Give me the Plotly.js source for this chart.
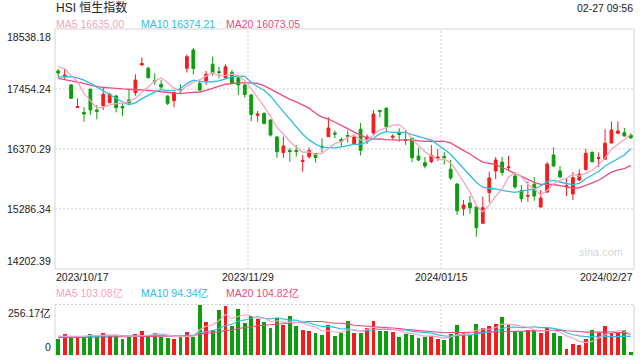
<!DOCTYPE html>
<html>
<head>
<meta charset="utf-8">
<script src="https://cdn.plot.ly/plotly-3.0.1.min.js"></script>
<style>html,body{margin:0;padding:0;background:#fff;}#chart{width:640px;height:360px;}</style>
</head>
<body>
<div id="chart"></div>
<script>
// ---------- data ----------
const dateLabels = ['2023/10/17', '2023/11/29', '2024/01/15', '2024/02/27'];
const dateIndex = [0, 30, 60, 89];
const priceTicks = [18538.18, 17454.24, 16370.29, 15286.34, 14202.39];
const volTicks = [256.17, 0];
const titleText = 'HSI 恒生指数';
const timeText = '02-27 09:56';

const open = [17779,17680,17527,17120,17030,17449,17075,17153,17207,17328,
17138,17256,17387,17888,17828,17608,17539,17328,17243,17445,
17828,18159,17557,17599,17901,17767,17658,17756,17658,17527,
17346,16979,17015,16894,16587,16307,16343,16343,16145,16231,
16289,16419,16593,16659,16542,16614,16457,16726,16546,16659,
17066,17106,16582,16665,16542,16564,16244,16123,16141,16208,
16235,16005,15738,15292,15395,15322,15028,15584,15973,16135,
16033,15883,15621,15516,15734,15322,15593,16262,15973,15693,
15557,15810,16000,16311,16199,16184,16479,16654,16665,16623];
const high = [17816,17828,17545,17286,17124,17463,17165,17485,17387,17346,
17201,17445,17720,18027,17857,17738,17617,17337,17405,17539,
18078,18195,17599,17779,18038,17857,17901,17798,17689,17545,
17364,17057,17030,16912,16605,16593,16388,16443,16262,16397,
16298,16564,16943,16705,16578,16705,16632,16840,16632,17075,
17075,17125,16636,16744,16714,16578,16397,16226,16443,16370,
16316,16172,15756,15449,15521,15344,15509,15960,16226,16226,
16244,15937,15720,15783,15864,15630,16135,16397,16064,15837,
15955,16005,16374,16325,16307,16728,16867,16867,16750,16659];
const low = [17658,17617,17274,17111,16864,16985,16907,17075,17192,17033,
16966,17183,17333,17879,17644,17527,17454,17165,17124,17377,
17752,17716,17418,17527,17695,17648,17635,17539,17346,17297,
16871,16864,16813,16593,16213,16213,16141,16231,15960,16199,
16127,16307,16587,16569,16406,16488,16443,16253,16461,16623,
16943,16696,16533,16502,16443,16135,16153,16022,16112,16153,
16090,15810,15178,15169,15201,14786,15015,15404,15823,15892,
15991,15648,15413,15418,15436,15316,15575,16040,15841,15521,
15449,15792,15982,16127,16045,16172,16470,16641,16596,16560];
const close = [17743,17707,17286,17138,17003,17075,17048,17359,17359,17116,
17111,17207,17617,17915,17658,17590,17490,17196,17395,17418,
18038,17825,17436,17720,17738,17752,17857,17557,17527,17355,
16994,17003,16831,16623,16322,16425,16325,16325,16163,16343,
16217,16406,16750,16641,16506,16600,16587,16347,16587,17003,
17051,16773,16600,16632,16524,16213,16172,16064,16257,16222,
16213,15846,15255,15359,15310,14950,15310,15846,16172,15946,
16045,15684,15472,15530,15521,15485,16096,16064,15864,15707,
15852,15915,16293,16141,16213,16473,16714,16696,16605,16569];

const ma5 = [17857,17820,17700,17585,17375,17242,17110,17125,17169,17191,
17199,17230,17282,17393,17502,17597,17654,17570,17466,17418,
17507,17574,17622,17687,17751,17694,17701,17725,17686,17610,
17458,17287,17142,16961,16755,16641,16505,16404,16312,16316,
16275,16291,16376,16471,16504,16581,16617,16536,16525,16625,
16715,16752,16803,16812,16716,16548,16428,16321,16246,16186,
16186,16120,15959,15779,15597,15344,15237,15355,15518,15645,
15864,15939,15864,15735,15650,15538,15621,15739,15806,15843,
15917,15880,15926,15982,16083,16207,16367,16447,16540,16635.00];
const ma10 = [17670,17675,17680,17655,17615,17555,17490,17420,17345,17283,
17220,17170,17203,17281,17347,17398,17442,17426,17430,17460,
17552,17614,17596,17577,17585,17601,17638,17674,17687,17681,
17576,17494,17433,17324,17182,17049,16896,16773,16637,16535,
16458,16398,16390,16392,16410,16428,16454,16456,16498,16564,
16648,16685,16670,16669,16670,16632,16590,16562,16529,16451,
16367,16274,16140,16013,15891,15765,15679,15657,15648,15621,
15604,15588,15609,15627,15648,15701,15780,15802,15771,15747,
15728,15751,15833,15894,15963,16062,16124,16187,16261,16374.21];
const ma20 = [17647,17626,17601,17577,17554,17526,17499,17481,17474,17460,
17455,17450,17445,17440,17430,17420,17405,17395,17385,17372,
17386,17392,17400,17429,17466,17499,17540,17550,17558,17570,
17564,17554,17515,17450,17383,17325,17267,17223,17162,17108,
17017,16946,16912,16858,16796,16739,16675,16615,16568,16550,
16553,16541,16530,16530,16540,16530,16522,16509,16514,16508,
16507,16479,16405,16341,16281,16198,16134,16109,16089,16036,
15985,15931,15875,15820,15769,15733,15729,15729,15710,15684,
15666,15669,15721,15760,15805,15881,15952,15994,16016,16073.05];

const vol = [80,107,96,93,96,107,96,113,100,96,
81,90,107,122,96,113,91,86,81,93,
117,93,256.17,169,127,228,249,147,233,164,
198,181,167,139,186,152,198,149,127,122,
113,101,152,96,113,172,113,113,137,172,
123,123,118,90,107,101,88,93,96,81,
76,107,152,113,101,157,135,147,157,191,
152,118,118,127,127,113,135,113,96,29,
56,51,81,127,113,147,113,113,127,15];
const vma5 = [96,95,97,94,94,100,98,101,102,102,
97,96,95,99,99,106,106,102,93,93,
94,94,128,146,152,175,206,184,197,204,
198,185,189,170,174,165,168,165,162,150,
142,122,123,117,115,127,129,121,130,141,
132,134,135,125,112,108,101,96,97,92,
87,91,102,106,110,126,132,131,139,157,
156,153,147,141,128,121,124,123,117,97,
86,69,63,69,86,104,116,123,123,103.08];
const vma10 = [92,93,94,94,95,96,96,97,97,98,
99,97,98,101,101,101,101,98,96,96,
100,100,115,120,123,134,150,156,171,178,
186,195,186,183,189,182,177,177,166,162,
153,145,144,140,132,134,126,122,123,128,
129,131,128,127,127,120,117,115,111,102,
97,96,99,101,101,106,111,117,123,134,
141,142,139,140,143,139,139,135,129,113,
103,97,93,93,91,95,93,93,96,94.34];
const vma20 = [88,88,89,89,90,90,91,91,92,92,
93,93,94,94,95,95,95,96,96,97,
99,98,106,110,112,118,125,127,134,137,
143,148,151,151,156,158,163,166,169,170,
170,170,165,161,161,158,151,149,145,145,
141,138,136,134,130,127,122,119,117,115,
113,114,114,114,114,113,114,116,117,118,
119,119,119,121,122,122,125,126,126,123,
122,119,116,117,117,117,116,114,112,104.82];

// ---------- styling ----------
const FONT = '"Liberation Sans", Arial, "Noto Sans CJK SC", sans-serif';
const RED = '#f41c1c', GREEN = '#0d9e0d';
const C5 = '#f8a3c0', C10 = '#2fbde3', C20 = '#ee4a80';
const TXT = '#222';

const idx = close.map((_, i) => i);
const n = close.length;
const xr = [-0.5, n - 0.5];

// plot geometry (page pixels)
const PT = 29, PB = 355, PL = 55, PR = 634;
const H = PB - PT, W = PR - PL;
const py = p => (PB - p) / H;
const px = p => (p - PL) / W;
const mainBottom = py(269), volTop = py(304.5);

const volColors = close.map((c, i) => c >= open[i] ? RED : GREEN);

const traces = [
  {type: 'candlestick', x: idx, open: open, high: high, low: low, close: close,
   xaxis: 'x', yaxis: 'y', whiskerwidth: 0, hoverinfo: 'skip',
   increasing: {line: {color: RED, width: 1}, fillcolor: RED},
   decreasing: {line: {color: GREEN, width: 1}, fillcolor: GREEN}},
  {type: 'scatter', mode: 'lines', x: idx, y: ma20, xaxis: 'x', yaxis: 'y', line: {color: C20, width: 1.3}, hoverinfo: 'skip'},
  {type: 'scatter', mode: 'lines', x: idx, y: ma10, xaxis: 'x', yaxis: 'y', line: {color: C10, width: 1.3}, hoverinfo: 'skip'},
  {type: 'scatter', mode: 'lines', x: idx, y: ma5, xaxis: 'x', yaxis: 'y', line: {color: C5, width: 1.3}, hoverinfo: 'skip'},
  {type: 'bar', x: idx, y: vol, xaxis: 'x2', yaxis: 'y2', width: 0.6, marker: {color: volColors, line: {width: 0}}, hoverinfo: 'skip'},
  {type: 'scatter', mode: 'lines', x: idx, y: vma20, xaxis: 'x2', yaxis: 'y2', line: {color: C20, width: 1.1}, hoverinfo: 'skip'},
  {type: 'scatter', mode: 'lines', x: idx, y: vma10, xaxis: 'x2', yaxis: 'y2', line: {color: C10, width: 1.1}, hoverinfo: 'skip'},
  {type: 'scatter', mode: 'lines', x: idx, y: vma5, xaxis: 'x2', yaxis: 'y2', line: {color: C5, width: 1.1}, hoverinfo: 'skip'}
];

const gridLine = {color: '#cfcfcf', width: 1, dash: '2px,2px'};
const frame = {color: '#d4d4d4', width: 1};
const gridX = [dateIndex[1] - 0.5, dateIndex[2] - 0.5];

const shapes = [
  {type: 'rect', xref: 'paper', yref: 'paper', x0: 0, x1: 1, y0: mainBottom, y1: 1, line: frame, layer: 'below'},
  ...priceTicks.slice(1, -1).map(v => ({type: 'line', xref: 'paper', yref: 'y', x0: 0, x1: 1, y0: v, y1: v, line: gridLine, layer: 'below'})),
  ...gridX.map(x => ({type: 'line', xref: 'x', yref: 'paper', x0: x, x1: x, y0: mainBottom, y1: 1, line: gridLine, layer: 'below'})),
  ...gridX.map(x => ({type: 'line', xref: 'x2', yref: 'paper', x0: x, x1: x, y0: 0, y1: volTop, line: gridLine, layer: 'below'})),
  {type: 'line', xref: 'paper', yref: 'paper', x0: 0, x1: 1, y0: volTop, y1: volTop, line: gridLine, layer: 'below'},
  {type: 'line', xref: 'paper', yref: 'paper', x0: 0, x1: 1, y0: 0, y1: 0, line: gridLine, layer: 'below'},
  {type: 'line', xref: 'paper', yref: 'paper', x0: 0, x1: 0, y0: 0, y1: volTop, line: frame, layer: 'below'},
  {type: 'line', xref: 'paper', yref: 'paper', x0: 1, x1: 1, y0: 0, y1: volTop, line: frame, layer: 'below'}
];

const A = (text, x, y, o) => Object.assign({
  text: text, x: x, y: y, xref: 'paper', yref: 'paper', showarrow: false,
  borderpad: 0, font: {family: FONT, size: 10.5, color: TXT}
}, o);

const last = n - 1;
const annotations = [
  A(titleText, 0, py(8), {xanchor: 'left', yanchor: 'middle', font: {family: FONT, size: 12, color: TXT}}),
  A(timeText, 1, py(8), {xanchor: 'right', yanchor: 'middle'}),
  A('MA5 ' + ma5[last].toFixed(2), 0, py(24), {xanchor: 'left', yanchor: 'middle', font: {family: FONT, size: 10.5, color: C5}}),
  A('MA10 ' + ma10[last].toFixed(2), px(140), py(24), {xanchor: 'left', yanchor: 'middle', font: {family: FONT, size: 10.5, color: C10}}),
  A('MA20 ' + ma20[last].toFixed(2), px(225), py(24), {xanchor: 'left', yanchor: 'middle', font: {family: FONT, size: 10.5, color: C20}}),
  A('MA5 ' + vma5[last].toFixed(2) + '亿', 0, py(293), {xanchor: 'left', yanchor: 'middle', font: {family: FONT, size: 10.5, color: C5}}),
  A('MA10 ' + vma10[last].toFixed(2) + '亿', px(140), py(293), {xanchor: 'left', yanchor: 'middle', font: {family: FONT, size: 10.5, color: C10}}),
  A('MA20 ' + vma20[last].toFixed(2) + '亿', px(225), py(293), {xanchor: 'left', yanchor: 'middle', font: {family: FONT, size: 10.5, color: C20}}),
  A('sina.com', 1, py(252), {xanchor: 'right', yanchor: 'middle', xshift: -10, font: {family: FONT, size: 11, color: '#d6d6d6'}})
];
priceTicks.forEach((v, i) => {
  annotations.push(A(v.toFixed(2), 0, v, {yref: 'y', xanchor: 'right', xshift: -3,
    yanchor: i === 0 ? 'top' : (i === priceTicks.length - 1 ? 'bottom' : 'middle'), yshift: i === 0 ? -1 : (i === priceTicks.length - 1 ? 1 : 0)}));
});
volTicks.forEach((v, i) => {
  annotations.push(A(v === 0 ? '0' : v.toFixed(2) + '亿', 0, v, {yref: 'y2', xanchor: 'right', xshift: -3,
    yanchor: i === 0 ? 'top' : 'bottom', yshift: i === 0 ? -1 : 1}));
});
dateLabels.forEach((t, i) => {
  const first = i === 0, lastL = i === dateLabels.length - 1;
  const x = first ? xr[0] : (lastL ? xr[1] : dateIndex[i] - 0.5);
  annotations.push(A(t, x, py(277), {xref: 'x', xanchor: first ? 'left' : (lastL ? 'right' : 'center'), yanchor: 'middle'}));
});

const axisBase = {showgrid: false, zeroline: false, showticklabels: false, ticks: '', showline: false, fixedrange: true};
const layout = {
  width: 640, height: 360,
  margin: {l: PL, r: 640 - PR, t: PT, b: 360 - PB, pad: 0},
  paper_bgcolor: '#ffffff', plot_bgcolor: 'rgba(0,0,0,0)',
  showlegend: false, boxgap: 0.38,
  font: {family: FONT, size: 10.5, color: TXT},
  xaxis: Object.assign({}, axisBase, {domain: [0, 1], range: xr, anchor: 'y', rangeslider: {visible: false}}),
  yaxis: Object.assign({}, axisBase, {domain: [mainBottom, 1], range: [priceTicks[priceTicks.length - 1], priceTicks[0]], anchor: 'x'}),
  xaxis2: Object.assign({}, axisBase, {domain: [0, 1], range: xr, anchor: 'y2'}),
  yaxis2: Object.assign({}, axisBase, {domain: [0, volTop], range: [0, volTicks[0]], anchor: 'x2'}),
  bargap: 0,
  shapes: shapes,
  annotations: annotations
};

Plotly.newPlot('chart', traces, layout, {staticPlot: true, displayModeBar: false});
</script>
</body>
</html>
